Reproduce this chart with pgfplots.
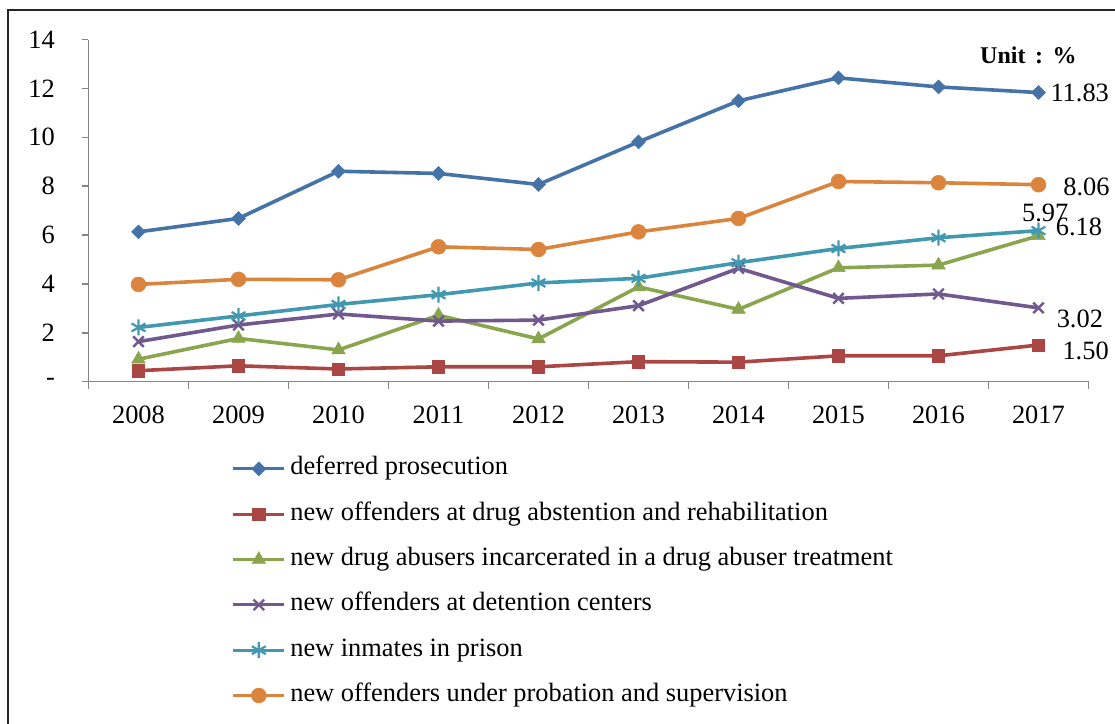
\documentclass[border=0pt]{standalone}
\usepackage{fontspec}
\setmainfont{Liberation Serif}
\usepackage{pgfplots}
\pgfplotsset{compat=1.18}

\definecolor{cBlue}{HTML}{4572A7}
\definecolor{cRed}{HTML}{AA4643}
\definecolor{cGreen}{HTML}{89A54E}
\definecolor{cPurple}{HTML}{71588F}
\definecolor{cTeal}{HTML}{4198AF}
\definecolor{cOrange}{HTML}{DB843D}
\definecolor{cAxis}{HTML}{868686}

\def\px{*0.75pt}
\newcommand\chartfont{\fontsize{19.8}{23}\selectfont}

\begin{document}
\begin{tikzpicture}
\path[use as bounding box] (0,0) rectangle (1115\px,-724\px);
% outer frame
\draw[line width=2\px, black!85] (8\px,-724\px) -- (8\px,-10\px) -- (1120\px,-10\px);

\begin{axis}[
  at={(88.5\px,-381.7\px)}, anchor=south west,
  width=1000\px, height=342.2\px, scale only axis,
  xmin=2007.5, xmax=2017.5, ymin=0, ymax=14,
  axis x line*=bottom, axis y line*=left,
  axis line style={cAxis, line width=1.5\px},
  tick align=outside,
  xtick={2008,...,2017},
  xticklabels={2008,2009,2010,2011,2012,2013,2014,2015,2016,2017},
  major x tick style={draw=none},
  minor xtick={2007.5,2008.5,...,2017.5},
  minor x tick style={cAxis, line width=1.5\px},
  minor tick length=7\px,
  ytick={0,2,...,14},
  yticklabels={-,2,4,6,8,10,12,14},
  y tick style={cAxis, line width=1.5\px},
  major tick length=7\px,
  tick label style={font=\chartfont, black},
  yticklabel style={xshift=-16.5pt},
  xticklabel style={yshift=-9.5pt},
  clip=false,
  every axis plot/.append style={line width=3.6\px},
  legend cell align=left,
  legend style={at={(axis description cs:0.1435,-0.2177)}, anchor=north west,
    draw=none, fill=none, inner sep=0pt, outer sep=0pt,
    font=\chartfont, row sep=15pt, column sep=3.5pt,
    nodes={inner sep=0pt, text height=14pt, text depth=5pt}},
  legend image code/.code={
    \draw[mark repeat=2, mark phase=2, #1, line width=3\px]
      plot coordinates {(0pt,0pt) (19pt,0pt) (38pt,0pt)};},
]
\addplot[cBlue, mark=square*, mark size=3.7pt,
  mark options={fill=cBlue, rotate=45, line width=0.5\px}] coordinates {
  (2008,6.13) (2009,6.68) (2010,8.61) (2011,8.52) (2012,8.07)
  (2013,9.81) (2014,11.49) (2015,12.43) (2016,12.06) (2017,11.83)};
\addlegendentry{deferred prosecution}
\addplot[cRed, mark=square*, mark size=4.6pt,
  mark options={fill=cRed, line width=0.5\px}] coordinates {
  (2008,0.45) (2009,0.65) (2010,0.52) (2011,0.61) (2012,0.61)
  (2013,0.82) (2014,0.80) (2015,1.06) (2016,1.06) (2017,1.50)};
\addlegendentry{new offenders at drug abstention and rehabilitation}
\addplot[cGreen, mark=triangle*, mark size=5.9pt,
  mark options={fill=cGreen, line width=0.5\px}] coordinates {
  (2008,0.92) (2009,1.77) (2010,1.30) (2011,2.72) (2012,1.75)
  (2013,3.88) (2014,2.96) (2015,4.66) (2016,4.77) (2017,5.97)};
\addlegendentry{new drug abusers incarcerated in a drug abuser treatment}
\addplot[cPurple, mark=x, mark size=5.6pt, mark options={line width=2.4\px}] coordinates {
  (2008,1.64) (2009,2.32) (2010,2.77) (2011,2.48) (2012,2.52)
  (2013,3.11) (2014,4.64) (2015,3.41) (2016,3.59) (2017,3.02)};
\addlegendentry{new offenders at detention centers}
\addplot[cTeal, mark=asterisk, mark size=6pt, mark options={line width=2.2\px}] coordinates {
  (2008,2.22) (2009,2.69) (2010,3.16) (2011,3.56) (2012,4.04)
  (2013,4.23) (2014,4.87) (2015,5.45) (2016,5.89) (2017,6.18)};
\addlegendentry{new inmates in prison}
\addplot[cOrange, mark=*, mark size=5.6pt,
  mark options={fill=cOrange, line width=0.5\px}] coordinates {
  (2008,3.98) (2009,4.19) (2010,4.17) (2011,5.52) (2012,5.41)
  (2013,6.13) (2014,6.68) (2015,8.19) (2016,8.14) (2017,8.06)};
\addlegendentry{new offenders under probation and supervision}

% value labels at the last year
\begin{scope}[every node/.style={font=\chartfont, inner sep=0pt, anchor=west}]
\node at ([xshift=8.8pt]axis cs:2017,11.83) {11.83};
\node at ([xshift=18.4pt,yshift=-1.5pt]axis cs:2017,8.06) {8.06};
\node at ([xshift=-12.5pt,yshift=17pt]axis cs:2017,5.97) {5.97};
\node at ([xshift=12.8pt,yshift=2.8pt]axis cs:2017,6.18) {6.18};
\node at ([xshift=13.5pt,yshift=-8.6pt]axis cs:2017,3.02) {3.02};
\node at ([xshift=17.8pt,yshift=-4.3pt]axis cs:2017,1.50) {1.50};
\end{scope}
\end{axis}

\node[anchor=east, font=\fontsize{18}{21}\selectfont\bfseries, inner sep=0pt]
  at (1077\px,-55\px) {Unit\hspace{0.4em}:\hspace{0.4em}\%};
\end{tikzpicture}
\end{document}
